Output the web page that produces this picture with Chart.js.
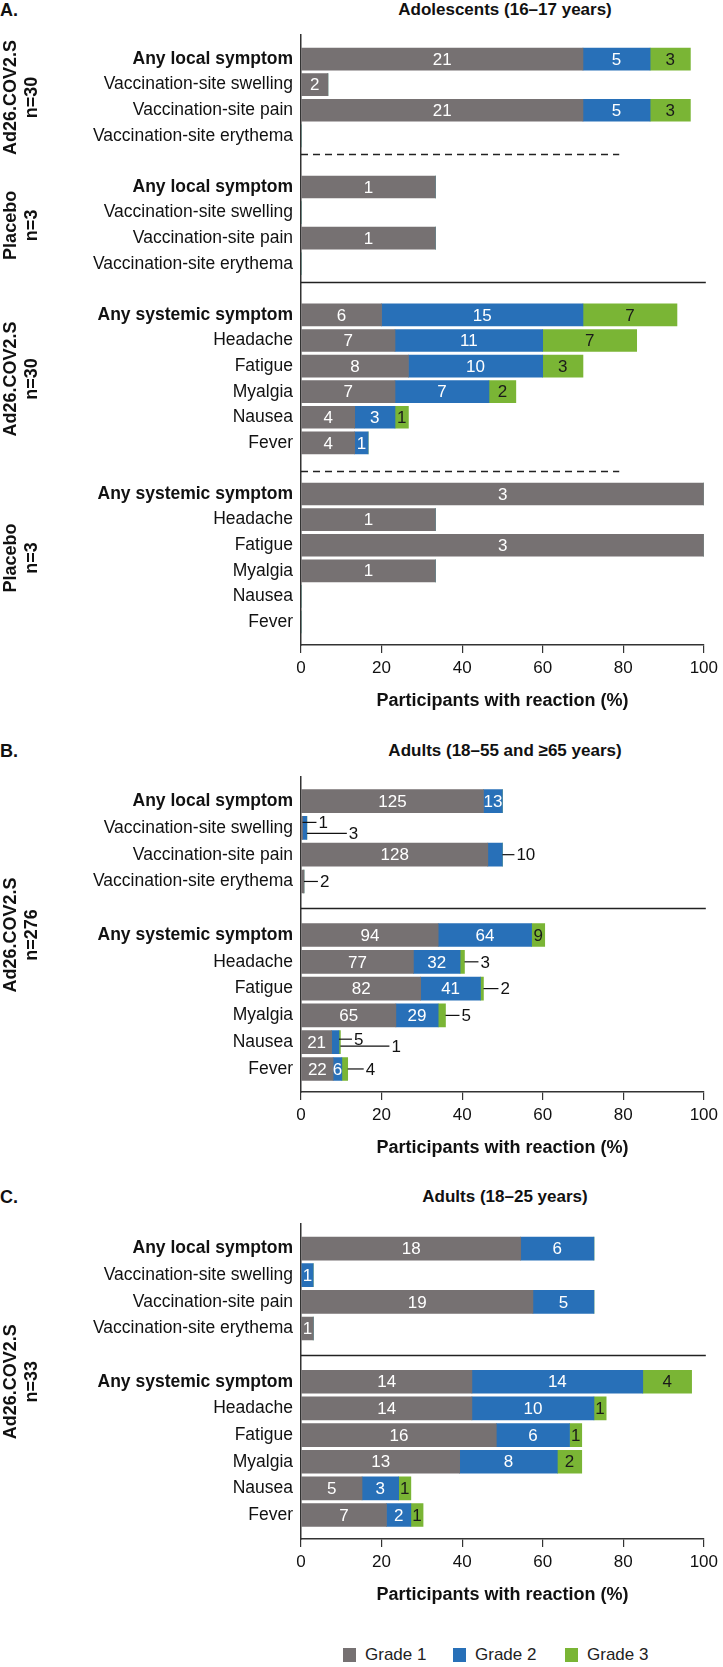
<!DOCTYPE html>
<html>
<head>
<meta charset="utf-8">
<script src="https://cdn.jsdelivr.net/npm/chart.js@4.4.1/dist/chart.umd.min.js"></script>
<style>
  body { margin: 0; width: 723px; height: 1667px; position: relative; background: #fff; overflow: hidden; }
  canvas { position: absolute; left: 0; }
  .lbl { position: absolute; font-family: 'Liberation Sans', Arial, sans-serif; font-weight: bold; font-size: 17px; color: #111; white-space: nowrap; transform: translate(-50%, -50%); }
  .panel { position: absolute; left: 0; font-family: 'Liberation Sans', Arial, sans-serif; font-weight: bold; font-size: 18px; color: #111; transform: translateY(-50%); }
  .leg { position: absolute; font-family: 'Liberation Sans', Arial, sans-serif; font-size: 17px; color: #222; transform: translateY(-50%); display: flex; align-items: center; }
  .leg span.box { display: inline-block; width: 13px; height: 14px; margin-right: 9px; }
</style>
</head>
<body>
<div class="panel" style="top:10px">A.</div>
<div class="lbl" style="left:505px; top:10px">Adolescents (16–17 years)</div>
<canvas id="chartA" width="723" height="720" style="top:0px"></canvas>

<div class="panel" style="top:751px">B.</div>
<div class="lbl" style="left:505px; top:751px">Adults (18–55 and ≥65 years)</div>
<canvas id="chartB" width="723" height="427" style="top:740px"></canvas>

<div class="panel" style="top:1197px">C.</div>
<div class="lbl" style="left:505px; top:1197px">Adults (18–25 years)</div>
<canvas id="chartC" width="723" height="409" style="top:1205px"></canvas>

<div class="leg" style="left:343px; top:1655px"><span class="box" style="background:#767172"></span>Grade 1</div>
<div class="leg" style="left:453px; top:1655px"><span class="box" style="background:#2870b8"></span>Grade 2</div>
<div class="leg" style="left:565px; top:1655px"><span class="box" style="background:#7ab535"></span>Grade 3</div>

<script>
const FONT = "'Liberation Sans', Arial, sans-serif";

const gradeLabels = ['Grade 1', 'Grade 2', 'Grade 3'];
const gradeColors = ['#767172', '#2870b8', '#7ab535'];
const gradeTextColors = ['#ffffff', '#ffffff', '#1a1a1a'];

// A. Adolescents (16-17 years) -- counts per grade, '' rows are gaps
const rowsA = ['Any local symptom', 'Vaccination-site swelling', 'Vaccination-site pain', 'Vaccination-site erythema', '',
  'Any local symptom', 'Vaccination-site swelling', 'Vaccination-site pain', 'Vaccination-site erythema', '',
  'Any systemic symptom', 'Headache', 'Fatigue', 'Myalgia', 'Nausea', 'Fever', '',
  'Any systemic symptom', 'Headache', 'Fatigue', 'Myalgia', 'Nausea', 'Fever'];
const nA      = [30, 30, 30, 30, 0, 3, 3, 3, 3, 0, 30, 30, 30, 30, 30, 30, 0, 3, 3, 3, 3, 3, 3];
const grade1A = [21, 2, 21, 0, 0, 1, 0, 1, 0, 0, 6, 7, 8, 7, 4, 4, 0, 3, 1, 3, 1, 0, 0];
const grade2A = [5, 0, 5, 0, 0, 0, 0, 0, 0, 0, 15, 11, 10, 7, 3, 1, 0, 0, 0, 0, 0, 0, 0];
const grade3A = [3, 0, 3, 0, 0, 0, 0, 0, 0, 0, 7, 7, 3, 2, 1, 0, 0, 0, 0, 0, 0, 0, 0];
const groupNamesA = ['Ad26.COV2.S', 'Placebo', 'Ad26.COV2.S', 'Placebo'];
const groupNA = ['n=30', 'n=3', 'n=30', 'n=3'];
const groupRowsA = [[0, 3], [5, 8], [10, 15], [17, 22]];

// B. Adults (18-55 and >=65 years)
const rowsB = ['Any local symptom', 'Vaccination-site swelling', 'Vaccination-site pain', 'Vaccination-site erythema', '',
  'Any systemic symptom', 'Headache', 'Fatigue', 'Myalgia', 'Nausea', 'Fever'];
const nB      = [276, 276, 276, 276, 0, 276, 276, 276, 276, 276, 276];
const grade1B = [125, 1, 128, 2, 0, 94, 77, 82, 65, 21, 22];
const grade2B = [13, 3, 10, 0, 0, 64, 32, 41, 29, 5, 6];
const grade3B = [0, 0, 0, 0, 0, 9, 3, 2, 5, 1, 4];

// C. Adults (18-25 years)
const rowsC = rowsB;
const nC      = [33, 33, 33, 33, 0, 33, 33, 33, 33, 33, 33];
const grade1C = [18, 0, 19, 1, 0, 14, 14, 16, 13, 5, 7];
const grade2C = [6, 1, 5, 0, 0, 14, 10, 6, 8, 3, 2];
const grade3C = [0, 0, 0, 0, 0, 4, 1, 1, 2, 1, 1];

// labels that sit outside the bar on a leader line (panel B)
const calloutsB = [
  { row: 1, grade: 0, dy: -5.5, len: 14 },
  { row: 1, grade: 1, dy: 5.5, len: 40 },
  { row: 2, grade: 1, dy: 0, len: 12 },
  { row: 3, grade: 0, dy: 0, len: 14 },
  { row: 6, grade: 2, dy: 0, len: 14 },
  { row: 7, grade: 2, dy: 0, len: 15 },
  { row: 8, grade: 2, dy: 0, len: 14 },
  { row: 9, grade: 1, dy: -3, len: 13 },
  { row: 9, grade: 2, dy: 4, len: 49 },
  { row: 10, grade: 2, dy: 0, len: 16 }
];

const overlay = {
  id: 'overlay',
  afterDatasetsDraw(chart, args, opts) {
    const { ctx, chartArea } = chart;
    const x = chart.scales.x, y = chart.scales.y;
    ctx.save();
    // separators
    ctx.strokeStyle = '#222';
    ctx.lineWidth = 1.3;
    (opts.dashed || []).forEach(v => {
      const py = Math.round(y.getPixelForValue(v)) + 0.5;
      ctx.setLineDash([7, 5]);
      ctx.beginPath(); ctx.moveTo(chartArea.left, py); ctx.lineTo(x.getPixelForValue(79), py); ctx.stroke();
    });
    ctx.setLineDash([]);
    (opts.solid || []).forEach(v => {
      const py = Math.round(y.getPixelForValue(v)) + 0.5;
      ctx.beginPath(); ctx.moveTo(chartArea.left, py); ctx.lineTo(chartArea.right + 2, py); ctx.stroke();
    });
    // value labels
    ctx.font = '17px ' + FONT;
    ctx.textBaseline = 'middle';
    chart.data.datasets.forEach((ds, di) => {
      const meta = chart.getDatasetMeta(di);
      meta.data.forEach((bar, j) => {
        const count = ds.counts[j];
        if (!count) return;
        const row = ds.data[j].y;
        const co = (opts.callouts || []).find(c => c.row === row && c.grade === di);
        if (co) {
          const yy = bar.y + co.dy;
          ctx.strokeStyle = '#111';
          ctx.lineWidth = 1.2;
          ctx.beginPath(); ctx.moveTo(bar.x, yy); ctx.lineTo(bar.x + co.len, yy); ctx.stroke();
          ctx.fillStyle = '#111';
          ctx.textAlign = 'left';
          ctx.fillText(String(count), bar.x + co.len + 2, yy + 1);
        } else {
          ctx.fillStyle = gradeTextColors[di];
          ctx.textAlign = 'center';
          ctx.fillText(String(count), (bar.x + bar.base) / 2, bar.y + 1);
        }
      });
    });
    // rotated group labels
    ctx.fillStyle = '#111';
    ctx.font = 'bold 18px ' + FONT;
    ctx.textAlign = 'center';
    (opts.groups || []).forEach(g => {
      const cy = (y.getPixelForValue(g.from) + y.getPixelForValue(g.to)) / 2;
      [[g.name, 11], [g.n, 32]].forEach(([t, px]) => {
        ctx.save();
        ctx.translate(px, cy);
        ctx.rotate(-Math.PI / 2);
        ctx.fillText(t, 0, 0);
        ctx.restore();
      });
    });
    ctx.restore();
  }
};

function makeChart(id, rows, n, g1, g2, g3, cfg) {
  const idx = rows.map((r, i) => i).filter(i => rows[i] !== '');
  const datasets = [g1, g2, g3].map((g, gi) => ({
    label: gradeLabels[gi],
    data: idx.map(i => ({ y: i, x: g[i] / n[i] * 100 })),
    counts: idx.map(i => g[i]),
    backgroundColor: gradeColors[gi],
    borderWidth: 0,
    barThickness: cfg.barThickness
  }));
  return new Chart(document.getElementById(id), {
    type: 'bar',
    data: { datasets },
    options: {
      indexAxis: 'y',
      responsive: false,
      animation: false,
      layout: { padding: { top: cfg.padTop, right: 15, left: 0, bottom: 0 } },
      plugins: {
        legend: { display: false },
        tooltip: { enabled: false },
        overlay: cfg.overlay
      },
      scales: {
        x: {
          type: 'linear', min: 0, max: 100, stacked: true,
          afterFit: s => { s.height = 75; },
          ticks: { stepSize: 20, padding: 5, color: '#111', font: { family: FONT, size: 17 } },
          grid: { display: true, drawOnChartArea: false, drawTicks: true, tickLength: 8, color: '#333', lineWidth: 1.2 },
          border: { display: true, color: '#333', width: 1.5 },
          title: { display: true, text: 'Participants with reaction (%)', color: '#111',
            font: { family: FONT, size: 18, weight: 'bold' }, padding: { top: 0, bottom: 8 } }
        },
        y: {
          type: 'linear', reverse: true, min: cfg.yMin, max: cfg.yMax, stacked: true,
          offset: false, bounds: 'data',
          afterFit: s => { s.width = 301; },
          afterBuildTicks: s => { s.ticks = idx.map(i => ({ value: i })); },
          ticks: {
            autoSkip: false, padding: 8, color: '#111',
            callback: v => rows[v],
            font: c => ({ family: FONT, size: 17.5,
              weight: (c.tick && String(rows[c.tick.value]).startsWith('Any')) ? 'bold' : 'normal' })
          },
          grid: { display: false, drawTicks: false, offset: false },
          border: { display: true, color: '#333', width: 1.5 }
        }
      }
    },
    plugins: [overlay]
  });
}

makeChart('chartA', rowsA, nA, grade1A, grade2A, grade3A, {
  padTop: 35, yMin: -0.94, yMax: 22.9, barThickness: 22,
  overlay: {
    dashed: [3.7, 16.1], solid: [8.7],
    groups: groupRowsA.map((r, i) => ({ name: groupNamesA[i], n: groupNA[i], from: r[0], to: r[1] }))
  }
});

makeChart('chartB', rowsB, nB, grade1B, grade2B, grade3B, {
  padTop: 37, yMin: -0.9, yMax: 10.86, barThickness: 23,
  overlay: {
    solid: [4], callouts: calloutsB,
    groups: [{ name: 'Ad26.COV2.S', n: 'n=276', from: 0, to: 10 }]
  }
});

makeChart('chartC', rowsC, nC, grade1C, grade2C, grade3C, {
  padTop: 18, yMin: -0.94, yMax: 10.9, barThickness: 23,
  overlay: {
    solid: [4],
    groups: [{ name: 'Ad26.COV2.S', n: 'n=33', from: 0, to: 10 }]
  }
});
</script>
</body>
</html>
